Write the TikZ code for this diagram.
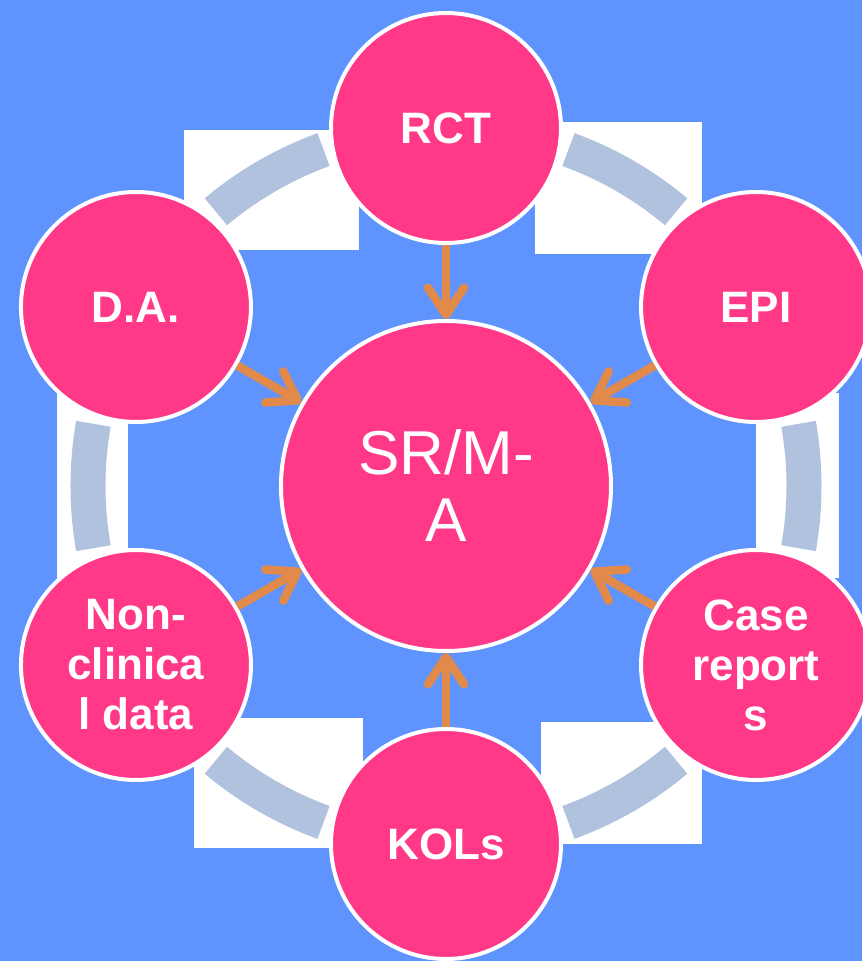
\documentclass[tikz,border=0pt]{standalone}
\usepackage{fontspec}
\setmainfont{Liberation Sans}
\usetikzlibrary{arrows.meta}
\definecolor{bgblue}{RGB}{95,147,254}
\definecolor{hotpink}{RGB}{255,56,136}
\definecolor{ringgray}{RGB}{176,194,222}
\definecolor{arrorange}{RGB}{226,138,74}

\begin{document}
\begin{tikzpicture}[x=1pt,y=1pt,
    bubble/.style={circle,fill=hotpink,draw=white,line width=4pt,minimum size=230pt,inner sep=0pt,
      text=white,align=center,font=\fontsize{44}{50}\selectfont\bfseries},
    hub/.style={bubble,minimum size=330pt,font=\fontsize{62}{67}\selectfont},
    feed/.style={arrorange,line width=8.5pt,-{Straight Barb[length=27pt,width=36pt,round]}},
    ring/.style={ringgray,line width=35pt}]
    \fill[bgblue] (-446,-475) rectangle (416,486);
    \useasboundingbox (-446,-475) rectangle (416,486);
    % white boxes behind the ring
    \foreach \xa/\ya/\xb/\yb in {-262/356/-87/236,89/364/256/232,-389/93/-318/-92,
        310/93/393/-92,-252/-232/-83/-362,95/-236/256/-358}
      \fill[white] (\xa,\ya) rectangle (\xb,\yb);
    \coordinate (c) at (0,0);
    \foreach \a in {50,110,...,350}
      \draw[ring] (\a:358) arc (\a:\a+20:358);
    \node[hub] (sr) at (c) {SR/M-\\A};
    \node[bubble] (rct) at (90:358) {RCT};
    \node[bubble] (da) at (150:358) {D.A.};
    \node[bubble] (nc) at (210:358) {Non-\\clinica\\l data};
    \node[bubble] (kol) at (270:358) {KOLs};
    \node[bubble] (cr) at (330:358) {Case\\report\\s};
    \node[bubble] (epi) at (30:358) {EPI};
    \foreach \n in {rct,da,nc,kol,cr,epi}
      \draw[feed] (\n) -- (sr);
\end{tikzpicture}
\end{document}
